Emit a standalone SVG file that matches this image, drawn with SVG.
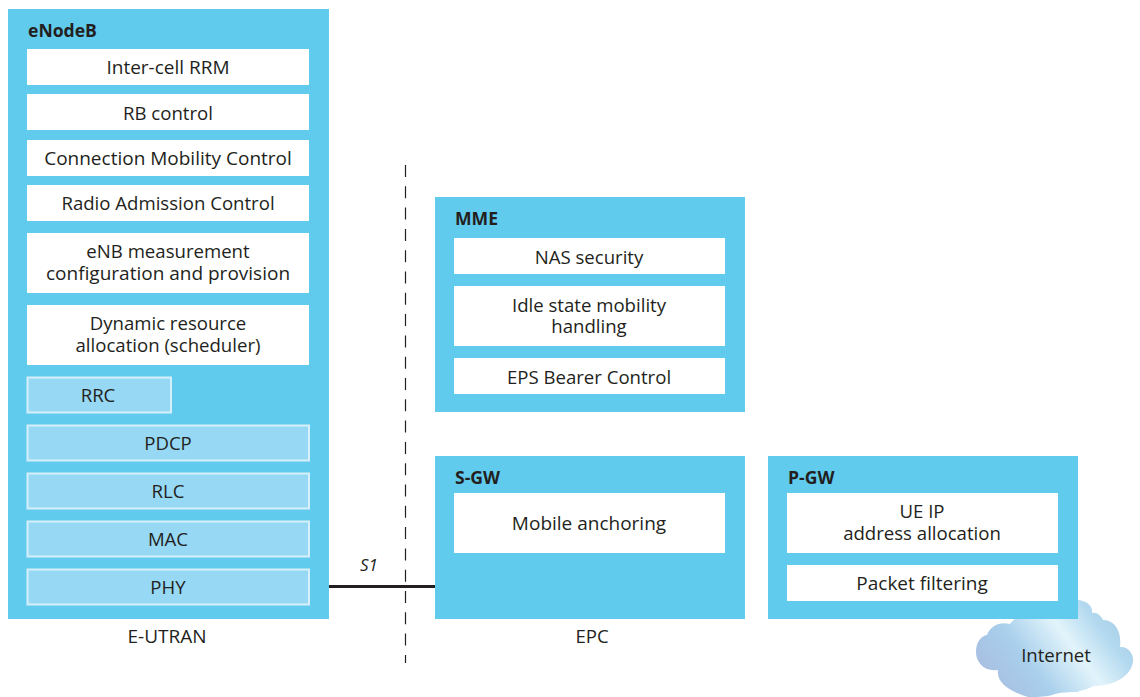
<svg xmlns="http://www.w3.org/2000/svg" width="1140" height="697" viewBox="0 0 1140 697">
<style>
text{font-family:"Open Sans","Noto Sans","Liberation Sans",sans-serif;font-size:18.600px;fill:#231f20;text-anchor:middle}
.h{font-weight:700;text-anchor:start;font-size:17.600px}
.big{font-size:19px}
.box{fill:#61cbee}
.w{fill:#fff}
.l{fill:#97d9f4;stroke:#d6f0fb;stroke-width:2}
</style>
<defs>
<linearGradient id="cloud" gradientUnits="userSpaceOnUse" x1="995" y1="690" x2="1110" y2="605">
<stop offset="0" stop-color="#a9bfe2"/><stop offset=".3" stop-color="#a8cfec"/><stop offset=".62" stop-color="#e2f4fb"/><stop offset=".85" stop-color="#b3d9ef"/><stop offset="1" stop-color="#a9cfe9"/>
</linearGradient>
</defs>
<g id="cloud-internet">
<path fill="url(#cloud)" d="M1028 697C1012 692 996 684 998 670C984 672 976 662 976 652C976 642 981 636 987 635C990 626 1000 621 1010 624C1016 616 1030 608 1045 606L1078 600C1088 601 1093 607 1092 613C1097 612 1101 616 1103 620C1114 620 1122 630 1120 647C1128 646 1134 654 1133 662C1131 674 1118 686 1093 686C1088 690 1080 690 1078 692C1070 692 1060 692 1052 695C1045 697 1035 697 1028 697Z"/>
<text x="1056" y="662">Internet</text>
</g>
<g id="connectors">
<line x1="405.500" y1="165" x2="405.500" y2="663" stroke="#231f20" stroke-width="1.200" stroke-dasharray="12 9.300"/>
<line x1="329" y1="586.500" x2="435" y2="586.500" stroke="#231f20" stroke-width="3"/>
<text x="369" y="571" style="font-style:italic;font-size:17px">S1</text>
</g>
<g id="enodeb">
<rect class="box" x="8" y="9" width="321" height="610"/>
<text class="h" x="28" y="37">eNodeB</text>
<rect class="w" x="27" y="49" width="282" height="36"/><text class="big" x="168" y="74">Inter-cell RRM</text>
<rect class="w" x="27" y="94" width="282" height="36"/><text x="168" y="120">RB control</text>
<rect class="w" x="27" y="140" width="282" height="36"/><text class="big" x="168" y="165">Connection Mobility Control</text>
<rect class="w" x="27" y="185" width="282" height="36"/><text x="168" y="210">Radio Admission Control</text>
<rect class="w" x="27" y="233" width="282" height="60"/><text x="168" y="258">eNB measurement<tspan class="big" x="168" y="280">configuration and provision</tspan></text>
<rect class="w" x="27" y="305" width="282" height="60"/><text x="168" y="330">Dynamic resource<tspan x="168" y="352">allocation (scheduler)</tspan></text>
<rect class="l" x="27.500" y="377.500" width="143.500" height="35"/><text x="98" y="402">RRC</text>
<rect class="l" x="27.500" y="425.500" width="281.500" height="35"/><text x="168" y="450">PDCP</text>
<rect class="l" x="27.500" y="473.500" width="281.500" height="35"/><text x="168" y="498">RLC</text>
<rect class="l" x="27.500" y="521.500" width="281.500" height="35"/><text x="168" y="546">MAC</text>
<rect class="l" x="27.500" y="569.500" width="281.500" height="35"/><text x="168" y="594">PHY</text>
</g>
<g id="mme">
<rect class="box" x="435" y="197" width="310" height="215"/>
<text class="h" x="455" y="225">MME</text>
<rect class="w" x="454" y="238" width="271" height="36"/><text x="589" y="264">NAS security</text>
<rect class="w" x="454" y="286" width="271" height="60"/><text x="589" y="312">Idle state mobility<tspan x="589" y="333">handling</tspan></text>
<rect class="w" x="454" y="358" width="271" height="36"/><text x="589" y="384">EPS Bearer Control</text>
</g>
<g id="s-gw">
<rect class="box" x="435" y="456" width="310" height="163"/>
<text class="h" x="455" y="484">S-GW</text>
<rect class="w" x="454" y="493" width="271" height="60"/><text class="big" x="589" y="530">Mobile anchoring</text>
</g>
<g id="p-gw">
<rect class="box" x="768" y="456" width="310" height="163"/>
<text class="h" x="788" y="484">P-GW</text>
<rect class="w" x="787" y="493" width="271" height="60"/><text x="922" y="518">UE IP<tspan x="922" y="540">address allocation</tspan></text>
<rect class="w" x="787" y="565" width="271" height="36"/><text class="big" x="922" y="590">Packet filtering</text>
</g>
<text class="big" x="167" y="643">E-UTRAN</text>
<text x="592" y="643">EPC</text>
</svg>
